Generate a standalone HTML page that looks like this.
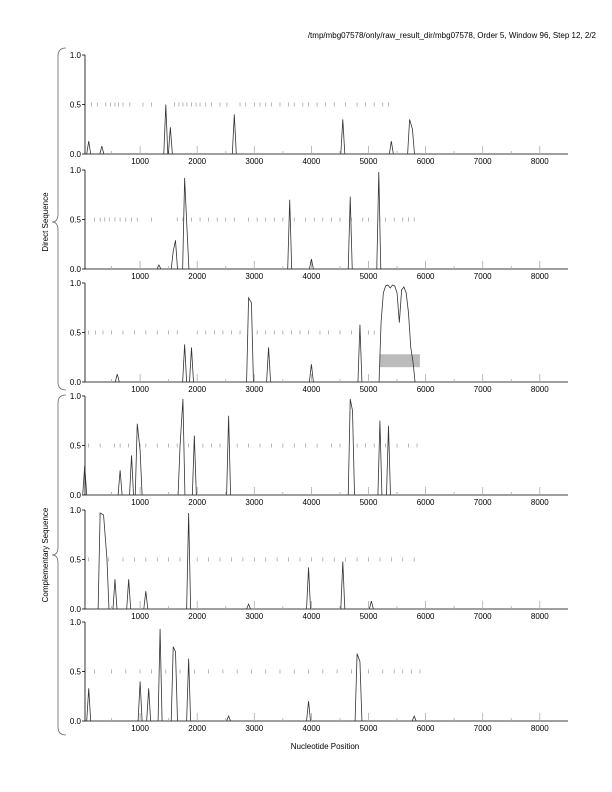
<!DOCTYPE html>
<html><head><meta charset="utf-8"><style>
body{margin:0;background:#fff}
svg{display:block;font-family:"Liberation Sans",sans-serif}
</style></head><body>
<svg id="s" width="612" height="792">
<text x="596" y="38" font-size="8" text-anchor="end">/tmp/mbg07578/only/raw_result_dir/mbg07578, Order 5, Window 96, Step 12, 2/2</text>
<text x="325" y="749" font-size="8" text-anchor="middle">Nucleotide Position</text>
<path d="M66,48 Q58,48 58,56 L58,214 Q58,222 52,222 Q58,222 58,230 L58,382 Q58,390 66,390" fill="none" stroke="#666" stroke-width="0.8"/>
<text transform="translate(48,222) rotate(-90)" font-size="8" text-anchor="middle">Direct Sequence</text>
<path d="M66,395 Q58,395 58,403 L58,547 Q58,555 52,555 Q58,555 58,563 L58,727 Q58,735 66,735" fill="none" stroke="#666" stroke-width="0.8"/>
<text transform="translate(48,555) rotate(-90)" font-size="8" text-anchor="middle">Complementary Sequence</text>
</svg>
<script>
const xTicks=[1000,2000,3000,4000,5000,6000,7000,8000];
const yTicks=[0,0.5,1];
const yTickLabels=["0.0","0.5","1.0"];
const peakPos=[
[100,330,1450,1530,2650,4550,5400,5720,5770],
[1330,1580,1620,1780,1820,3620,4000,4680,5180],
[600,1780,1900,2900,2950,3250,4000,4850,5220,5260,5300,5340,5380,5420,5460,5500,5540,5580,5620,5660,5700,5740,5780],
[30,650,850,950,1000,1700,1750,1950,2550,4680,4720,5200,5350],
[300,360,420,560,800,1100,1850,2900,3950,4550,5050],
[100,1000,1150,1350,1580,1620,1850,2550,3950,4800,4850,5800]];
const peakVal=[
[0.13,0.08,0.5,0.27,0.4,0.35,0.13,0.35,0.25],
[0.04,0.18,0.29,0.92,0.42,0.7,0.1,0.73,0.98],
[0.08,0.38,0.35,0.85,0.8,0.35,0.18,0.58,0.6,0.9,0.97,0.98,0.95,0.98,0.97,0.9,0.6,0.93,0.96,0.9,0.7,0.35,0.2],
[0.3,0.25,0.4,0.72,0.45,0.5,0.97,0.6,0.8,0.97,0.85,0.75,0.7],
[0.97,0.95,0.5,0.3,0.3,0.18,0.97,0.05,0.42,0.48,0.08],
[0.33,0.4,0.33,0.93,0.75,0.7,0.63,0.05,0.2,0.68,0.6,0.05]];
const orfMarks=[
[150,250,400,480,560,620,700,820,1050,1200,1600,1680,1750,1820,1900,1980,2050,2150,2250,2400,2520,2750,2850,3000,3100,3200,3300,3450,3600,3700,3850,3950,4100,4250,4400,4600,4800,4950,5100,5250,5350],
[200,300,380,460,560,650,750,850,950,1200,1650,1750,1900,2050,2200,2350,2500,2650,2900,3050,3200,3350,3500,3700,3900,4050,4200,4350,4500,4700,4900,5000,5200,5300,5450,5600,5700,5800],
[100,220,350,500,700,900,1100,1300,1500,1650,2000,2150,2300,2450,2600,2750,3050,3200,3350,3500,3650,3800,3950,4150,4300,4500,4700,4850,5000,5100],
[100,300,550,650,800,1000,1100,1300,1500,1650,1850,2100,2250,2400,2700,2900,3100,3300,3500,3700,3900,4100,4350,4500,4800,4950,5100,5300,5500,5700,5850],
[100,450,700,900,1100,1300,1500,1700,2000,2200,2400,2600,2800,3000,3200,3400,3600,3800,4000,4200,4400,4600,4800,5000,5200,5400,5600,5800],
[200,500,750,1000,1200,1450,1700,1950,2200,2450,2700,2950,3200,3450,3700,3950,4200,4450,4700,5000,5250,5450,5600,5750,5900]];
const shadeBox={panel:2,x0:5200,x1:5900,y0:0.15,y1:0.28};
const panelTop=[55,170,283,396,510,622];
const H=99, X0=85, X1=568;
function xs(v){return 83+v*0.0571;}
const svg=document.getElementById('s');
const NS='http://www.w3.org/2000/svg';
function mk(t,a){const e=document.createElementNS(NS,t);for(const k in a)e.setAttribute(k,a[k]);svg.appendChild(e);return e;}
panelTop.forEach((top,p)=>{
  const ys=v=>top+H-v*H;
  let ax=mk('path',{d:`M${X0},${top} L${X0},${top+H} L${X1},${top+H}`,fill:'none',stroke:'#000','stroke-width':0.8});
  
  
  yTicks.forEach((t,i)=>{
    mk('line',{x1:X0-3,x2:X0,y1:ys(t),y2:ys(t),stroke:'#000','stroke-width':0.8});
    const tx=mk('text',{x:X0-4,y:ys(t)+3,'font-size':8,'text-anchor':'end'});
    tx.textContent=yTickLabels[i];
    
    
  });
  xTicks.forEach(t=>{
    mk('line',{x1:xs(t),x2:xs(t),y1:top+H,y2:top+H-8,stroke:'#aaa','stroke-width':0.8});
    mk('line',{x1:xs(t-500),x2:xs(t-500),y1:top+H,y2:top+H-3,stroke:'#aaa','stroke-width':0.8});
    const tx=mk('text',{x:xs(t),y:top+H+10,'font-size':8,'text-anchor':'middle'});
    tx.textContent=t;
    
    
  });
  orfMarks[p].forEach(m=>{
    const l=mk('line',{x1:xs(m),x2:xs(m),y1:ys(0.5)-2,y2:ys(0.5)+2,stroke:'#999','stroke-width':0.7});
    
    
  });
  if(shadeBox.panel===p){
    const r=mk('rect',{x:xs(shadeBox.x0),y:ys(shadeBox.y1),width:xs(shadeBox.x1)-xs(shadeBox.x0),height:ys(shadeBox.y0)-ys(shadeBox.y1),fill:'#bbb'});
    
    
  }
  let d='';
  const P=peakPos[p], V=peakVal[p];
  P.forEach((pos,i)=>{
    const v=V[i];
    const joinPrev=i>0 && pos-P[i-1]<=70;
    const joinNext=i<P.length-1 && P[i+1]-pos<=70;
    if(!joinPrev) d+=`M${xs(pos-35)},${ys(0)} `;
    d+=`L${xs(pos)},${ys(v)} `;
    if(!joinNext) d+=`L${xs(pos+35)},${ys(0)} `;
  });
  const pl=mk('path',{d:d,fill:'none',stroke:'#333','stroke-width':0.8});
  
  
});
</script>
</body></html>
